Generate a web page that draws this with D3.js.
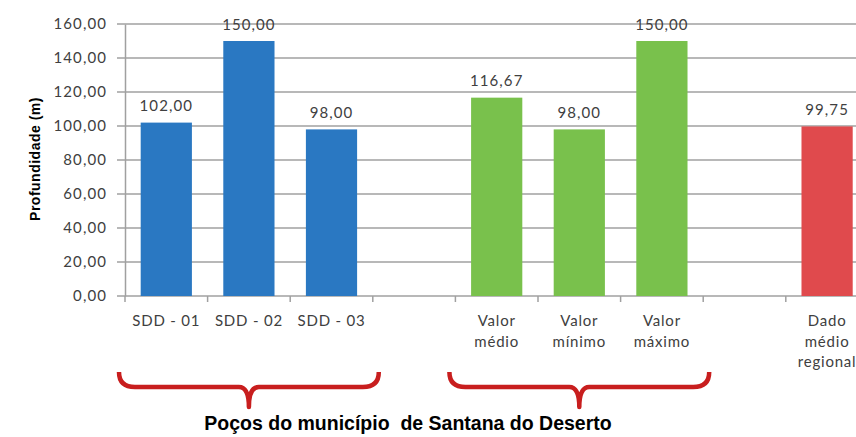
<!DOCTYPE html>
<html><head><meta charset="utf-8">
<script src="https://cdn.jsdelivr.net/npm/d3@7"></script>
<style>html,body{margin:0;padding:0;background:#fff;overflow:hidden}</style>
</head><body>
<svg id="c" width="856" height="437"></svg>
<script>
const categories = ["SDD - 01","SDD - 02","SDD - 03","gap1","Valor\nmédio","Valor\nmínimo","Valor\nmáximo","gap2","Dado\nmédio\nregional"];
const values = [102.00,150.00,98.00,null,116.67,98.00,150.00,null,99.75];
const groups = ["poco","poco","poco",null,"stat","stat","stat",null,"regional"];
const yTicks = [0,20,40,60,80,100,120,140,160];
const braceGroups = [["SDD - 01","SDD - 03"],["Valor\nmédio","Valor\nmáximo"]];
const yTitle = "Profundidade (m)";
const caption = "Poços do município  de Santana do Deserto";

const colors = {poco:"#2a78c2", stat:"#79c14c", regional:"#e04a4d"};
const svg = d3.select("#c");
const fmt = v => d3.format(".2f")(v).replace(".", ",");

const x = d3.scaleBand().domain(categories).range([125, 125 + 9*82.6]).paddingInner(0.38).paddingOuter(0.19);
const y = d3.scaleLinear().domain([0,160]).range([296,24]);

// gridlines
svg.append("g").selectAll("line").data(yTicks).join("line")
  .attr("x1",117).attr("x2",856).attr("y1",d=>y(d)).attr("y2",d=>y(d))
  .attr("stroke","#a0a0a0").attr("stroke-width",1.5);

// y axis
const ya = svg.append("g").attr("transform","translate(125,0)")
  .call(d3.axisLeft(y).tickValues(yTicks).tickSize(0).tickPadding(18).tickFormat(fmt));
ya.select(".domain").attr("stroke","#a0a0a0").attr("stroke-width",1.5);
ya.selectAll("text").attr("font-family","Lato, sans-serif").attr("font-size",15)
  .attr("letter-spacing",1.1).attr("fill","#404040");

// x axis ticks
const step = x.step();
const tickXs = d3.range(0,10).map(i => 125 + i*step);
svg.append("g").selectAll("line").data(tickXs).join("line")
  .attr("x1",d=>d).attr("x2",d=>d).attr("y1",296).attr("y2",302)
  .attr("stroke","#a0a0a0").attr("stroke-width",1.5);

// bars
const data = categories.map((c,i)=>({c, v:values[i], g:groups[i]})).filter(d=>d.v!=null);
svg.append("g").selectAll("rect").data(data).join("rect")
  .attr("x",d=>x(d.c)).attr("width",x.bandwidth())
  .attr("y",d=>y(d.v)).attr("height",d=>y(0)-y(d.v))
  .attr("fill",d=>colors[d.g]);

// value labels
svg.append("g").selectAll("text").data(data).join("text")
  .attr("x",d=>x(d.c)+x.bandwidth()/2).attr("y",d=>y(d.v)-11.5)
  .attr("text-anchor","middle").attr("font-family","Lato, sans-serif").attr("font-size",15)
  .attr("letter-spacing",1.1).attr("fill","#404040").text(d=>fmt(d.v));

// x category labels
const xl = svg.append("g").selectAll("text").data(categories.filter(c=>!c.startsWith("gap"))).join("text")
  .attr("x",d=>x(d)+x.bandwidth()/2).attr("y",326)
  .attr("text-anchor","middle").attr("font-family","Lato, sans-serif").attr("font-size",15)
  .attr("letter-spacing",0.8).attr("fill","#404040");
xl.each(function(d){
  const t = d3.select(this);
  d.split("\n").forEach((s,i)=>t.append("tspan").attr("x",x(d)+x.bandwidth()/2).attr("dy",i?20.5:0).text(s));
});

// y title
svg.append("text").attr("transform","translate(40,159) rotate(-90)")
  .attr("text-anchor","middle").attr("font-family","Liberation Sans, Arial, sans-serif")
  .attr("font-weight","bold").attr("font-size",14).attr("letter-spacing",0.5).attr("fill","#000").text(yTitle);

// braces
braceGroups.forEach(([a,b])=>{
  const i0 = categories.indexOf(a), i1 = categories.indexOf(b);
  const x0 = 125 + i0*step - 6, x1 = 125 + (i1+1)*step + 6;
  const cx = (x0+x1)/2, top=372, mid=387, bot=407;
  const p = `M${x0},${top} Q${x0},${mid} ${x0+16},${mid} L${cx-10},${mid} Q${cx},${mid} ${cx},${bot} Q${cx},${mid} ${cx+10},${mid} L${x1-16},${mid} Q${x1},${mid} ${x1},${top}`;
  svg.append("path").attr("d",p).attr("fill","none").attr("stroke","#c81e1e").attr("stroke-width",4.5).attr("stroke-linejoin","round");
});

// caption
svg.append("text").attr("x",408).attr("y",430).attr("text-anchor","middle")
  .attr("font-family","Liberation Sans, Arial, sans-serif").attr("font-weight","bold")
  .attr("font-size",19.5).attr("fill","#000").attr("xml:space","preserve").style("white-space","pre").text(caption);
</script>
</body></html>
